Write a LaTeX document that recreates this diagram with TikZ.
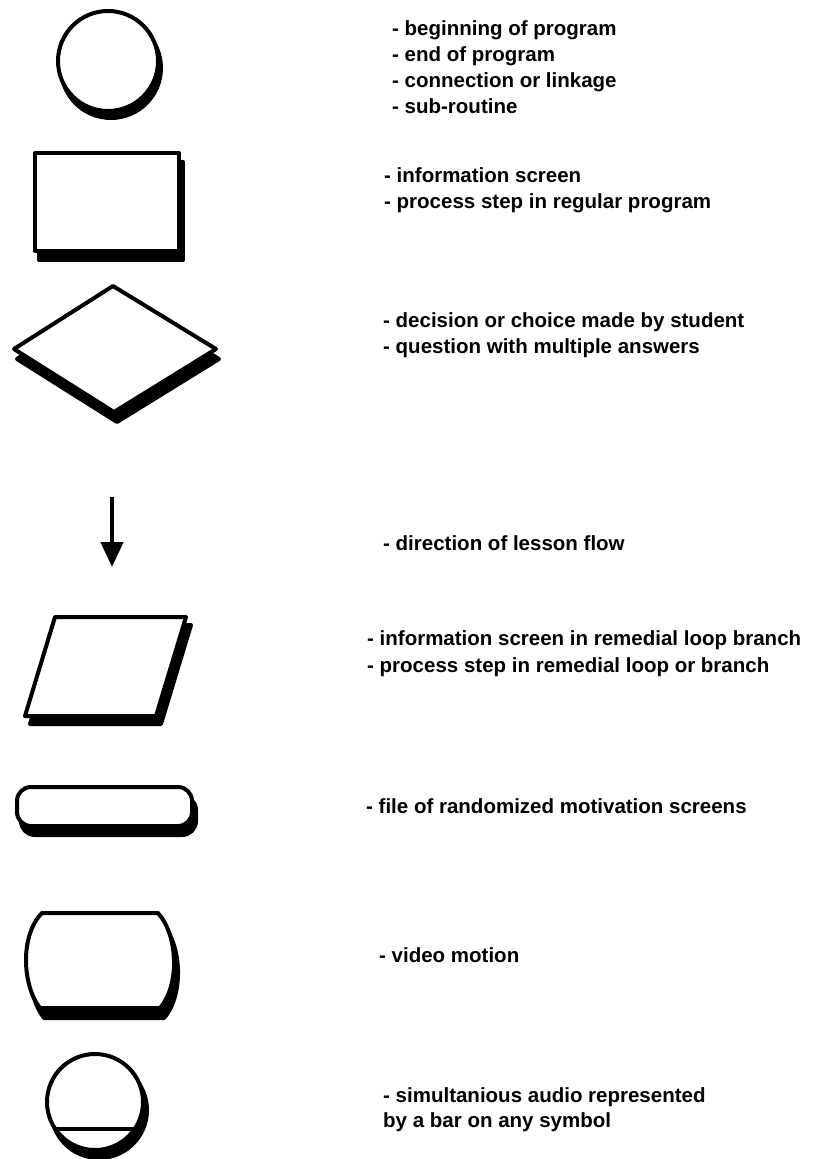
\documentclass[tikz,border=0pt]{standalone}
\usepackage{fontspec}
\setmainfont{Liberation Sans}
\usetikzlibrary{arrows.meta,calc}
\begin{document}
\begin{tikzpicture}[x=1pt,y=-1pt]
\tikzset{
  outline/.style={draw=black, line width=4pt, fill=white, line join=round},
  dropshade/.style={draw=black, fill=black, line width=4pt, line join=round},
  lbl/.style={anchor=base west, inner sep=0pt, font=\fontsize{20.5}{26}\selectfont\bfseries}
}
\useasboundingbox (0,0) rectangle (812,1159);
\fill[white] (0,0) rectangle (812,1159);

% terminal / connector circle
\fill[black] (111,68) circle (52pt);
\draw[outline] (108,61) circle (50pt);

% process box
\draw[dropshade] (39,162) rectangle (183,260);
\draw[outline] (35,153) rectangle (179,251);

% decision diamond
\draw[dropshade] (116,296) -- (219,359) -- (117,422) -- (17,359) -- cycle;
\draw[outline] (113,286) -- (216,349) -- (114,412) -- (14,349) -- cycle;

% flow direction arrow
\coordinate (flowtop) at (112,497);
\coordinate (flowend) at (112,567);
\draw[line width=4.5pt, -{Triangle[length=25pt,width=22pt]}] (flowtop) -- (flowend);

% remedial parallelogram
\draw[dropshade] (60,625) -- (191,625) -- (161,724) -- (30,724) -- cycle;
\draw[outline] (55,617) -- (186,617) -- (156,716) -- (25,716) -- cycle;

% motivation file (rounded bar)
\draw[dropshade, rounded corners=14pt] (21,796) rectangle (196,835);
\draw[outline, rounded corners=14pt] (17,787) rectangle (192,826);

% video motion shape
\draw[dropshade] (46,923) -- (162,923) .. controls (182,945) and (184,995) .. (164,1018)
  -- (44,1018) .. controls (26,995) and (24,945) .. (46,923) -- cycle;
\draw[outline] (42,913) -- (158,913) .. controls (178,935) and (180,985) .. (160,1008)
  -- (40,1008) .. controls (22,985) and (20,935) .. (42,913) -- cycle;

% circle with audio bar
\coordinate (audioc) at (95,1102);
\fill[black] (99,1110) circle (50pt);
\draw[outline] (audioc) circle (48pt);
\draw[line width=3.5pt] ($(audioc)+(-34.2:48pt)$) -- ($(audioc)+(214.2:48pt)$);

% descriptions
\node[lbl] (t1a) at (392,35)  {- beginning of program};
\node[lbl] (t1b) at (392,61)  {- end of program};
\node[lbl] (t1c) at (392,87)  {- connection or linkage};
\node[lbl] (t1d) at (392,113) {- sub-routine};

\node[lbl] (t2a) at (384,182) {- information screen};
\node[lbl] (t2b) at (384,208) {- process step in regular program};

\node[lbl] (t3a) at (383,327) {- decision or choice made by student};
\node[lbl] (t3b) at (383,353) {- question with multiple answers};

\node[lbl] (t4)  at (383,550) {- direction of lesson flow};

\node[lbl] (t5a) at (367,645) {- information screen in remedial loop branch};
\node[lbl] (t5b) at (367,672) {- process step in remedial loop or branch};

\node[lbl] (t6)  at (366,813) {- file of randomized motivation screens};

\node[lbl] (t7)  at (379,962) {- video motion};

\node[lbl] (t8a) at (383,1102) {- simultanious audio represented};
\node[lbl] (t8b) at (383,1127) {by a bar on any symbol};
\end{tikzpicture}
\end{document}
